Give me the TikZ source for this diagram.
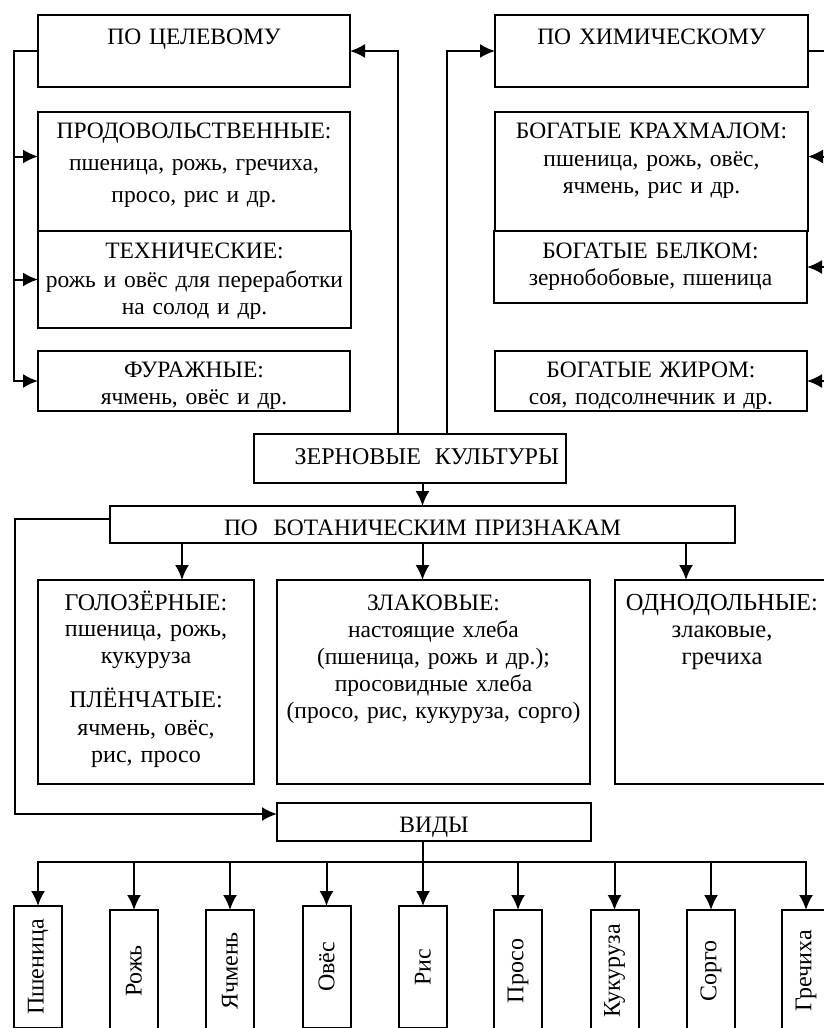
\documentclass[tikz,border=0pt]{standalone}
\usepackage{fontspec}
\setmainfont{Liberation Serif}
\usetikzlibrary{arrows.meta}

\begin{document}
\begin{tikzpicture}[x=1pt, y=-1pt, line width=2pt, >={Latex[length=15pt,width=14pt]},
	blok/.style={draw, anchor=north west, align=center, inner sep=0pt, outer sep=0pt, text height=27pt, font=\fontsize{23.5}{27}\selectfont},
	vidbox/.style={draw, rotate=90, anchor=east, minimum width=122pt, minimum height=48pt, inner sep=0pt, outer sep=0pt, font=\fontsize{24}{27}\selectfont}]
	  \useasboundingbox (0,0) rectangle (824,1028);

	  \node[blok, text width=312pt, text height=29pt, text depth=43pt] (cel) at (38,15) {ПО ЦЕЛЕВОМУ};
	  \node[blok, text width=312pt, text height=26pt, text depth=93pt] (prod) at (38,112) {ПРОДОВОЛЬСТВЕННЫЕ:\\[5pt] пшеница, рожь, гречиха,\\[5pt] просо, рис и др.};
	  \node[blok, text width=313pt, text depth=70pt] (tech) at (38,231) {ТЕХНИЧЕСКИЕ:\\[2pt] рожь и овёс для переработки\\ на солод и др.};
	  \node[blok, text width=312pt, text height=26pt, text depth=34pt] (fur) at (38,351) {ФУРАЖНЫЕ:\\ ячмень, овёс и др.};

	  \node[blok, text width=313pt, text height=29pt, text depth=43pt] (him) at (495,15) {ПО ХИМИЧЕСКОМУ};
	  \node[blok, text width=313pt, text height=26pt, text depth=93pt] (krah) at (495,112) {БОГАТЫЕ КРАХМАЛОМ:\\[1pt] пшеница, рожь, овёс,\\ ячмень, рис и др.};
	  \node[blok, text width=313pt, text depth=45pt] (belk) at (494,231) {БОГАТЫЕ БЕЛКОМ:\\ зернобобовые, пшеница};
	  \node[blok, text width=312pt, text height=26pt, text depth=34pt] (zhir) at (495,351) {БОГАТЫЕ ЖИРОМ:\\ соя, подсолнечник и др.};

	  \node[blok, text width=298pt, inner xsep=7pt, align=right, text height=30pt, text depth=19pt, font=\fontsize{24}{27}\selectfont] (zern) at (254,434) {ЗЕРНОВЫЕ\hspace{14pt}КУЛЬТУРЫ};
	  \node[blok, text width=625pt, text height=29pt, text depth=8pt] (bot) at (110,506) {ПО\ \ БОТАНИЧЕСКИМ ПРИЗНАКАМ};

	  \node[blok, text width=216pt, text height=30pt, text depth=174pt, font=\fontsize{24}{27}\selectfont] (golo) at (38,580) {ГОЛОЗЁРНЫЕ:\\[-1pt] пшеница, рожь,\\ кукуруза\\[17pt] ПЛЁНЧАТЫЕ:\\[1pt] ячмень, овёс,\\ рис, просо};
	  \node[blok, text width=313pt, text height=30pt, text depth=174pt] (zlak) at (277,580) {ЗЛАКОВЫЕ:\\ настоящие хлеба\\ (пшеница, рожь и др.);\\ просовидные хлеба\\ (просо, рис, кукуруза, сорго)};
	  \node[blok, text width=214pt, text height=30pt, text depth=174pt, font=\fontsize{24.5}{27}\selectfont] (odno) at (615,580) {ОДНОДОЛЬНЫЕ:\\ злаковые,\\ гречиха};

	  \node[blok, text width=314pt, text height=29pt, text depth=9pt] (vidy) at (277,803) {ВИДЫ};

	  \node[vidbox] (psh) at (38,906) {Пшеница};
	  \node[vidbox] (rozh) at (134,910) {Рожь};
	  \node[vidbox] (yach) at (230,910) {Ячмень};
	  \node[vidbox] (oves) at (326.5,906) {Овёс};
	  \node[vidbox] (ris) at (423,906) {Рис};
	  \node[vidbox] (pros) at (518,910) {Просо};
	  \node[vidbox] (kuk) at (614.5,910) {Кукуруза};
	  \node[vidbox] (sorg) at (711,910) {Сорго};
	  \node[vidbox] (grech) at (806,910) {Гречиха};

	  \coordinate (lbus) at (14,200);
	  \coordinate (rbus) at (826,200);
	  \coordinate (vbend) at (15,700);
	  \coordinate (bus) at (423,862);

	  \draw[->] ([xshift=-12pt]zern.north) |- (cel.east);
	  \draw[->] ([xshift=37pt]zern.north) |- (him.west);
	  \draw[->] (cel.west) -| (lbus) |- (fur.west);
	  \draw[->] (lbus) |- ([yshift=15pt]prod.west);
	  \draw[->] (lbus) |- (tech.west);
	  \draw[->] (him.east) -| (rbus) |- (zhir.east);
	  \draw[->] (rbus) |- ([yshift=15pt]krah.east);
	  \draw[->] (rbus) |- (belk.east);

	  \draw[->] (zern.south -| bot.north) -- (bot.north);
	  \draw[->] ([xshift=-240.5pt]bot.south) -- ([xshift=-240.5pt]bot.south |- golo.north);
	  \draw[->] (bot.south) -- (bot.south |- zlak.north);
	  \draw[->] ([xshift=263.5pt]bot.south) -- ([xshift=263.5pt]bot.south |- odno.north);
	  \draw[->] ([yshift=6pt]bot.west) -| (vbend) |- ([yshift=8pt]vidy.west);

	  \draw[->] (vidy.south -| ris.east) -- (ris.east);
	  \draw[->] (bus) -- (bus -| psh.east) -- (psh.east);
	  \draw[->] (bus) -| (grech.east);
	  \draw[->] (bus -| rozh.east) -- (rozh.east);
	  \draw[->] (bus -| yach.east) -- (yach.east);
	  \draw[->] (bus -| oves.east) -- (oves.east);
	  \draw[->] (bus -| pros.east) -- (pros.east);
	  \draw[->] (bus -| kuk.east) -- (kuk.east);
	  \draw[->] (bus -| sorg.east) -- (sorg.east);
\end{tikzpicture}
\end{document}
